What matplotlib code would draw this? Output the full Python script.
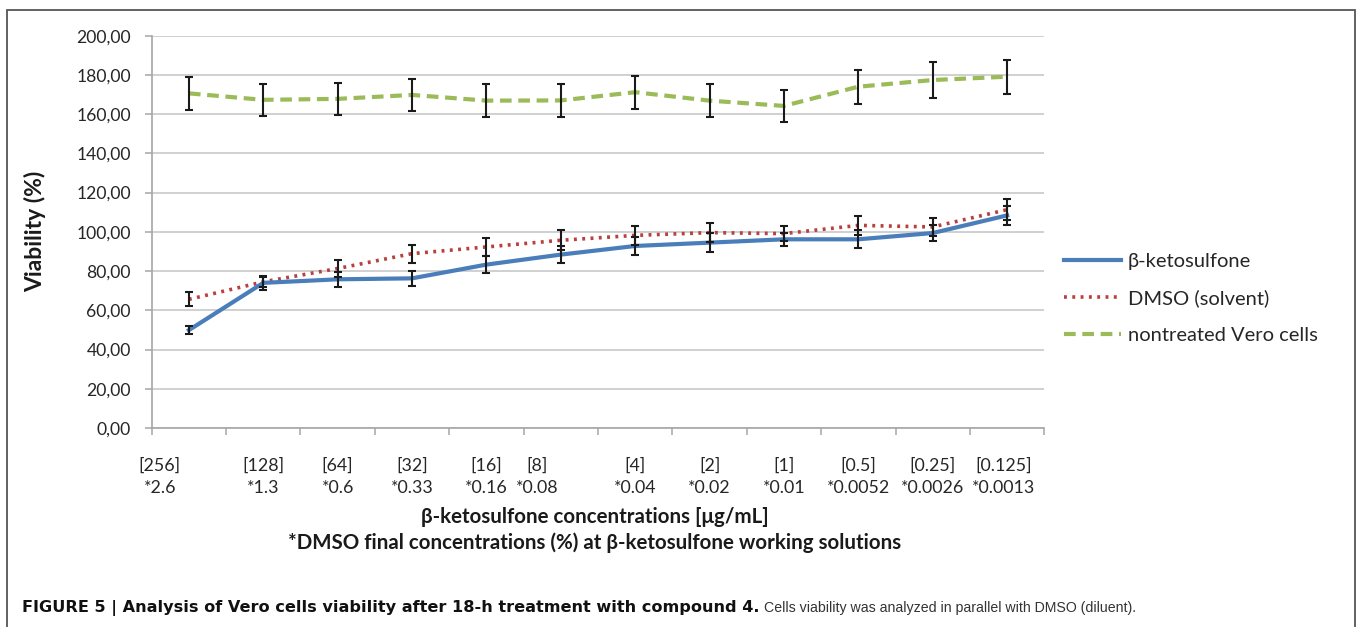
import numpy as np
import matplotlib
matplotlib.use("Agg")
import matplotlib.pyplot as plt
from matplotlib.patches import Rectangle
from matplotlib.ticker import FuncFormatter, MultipleLocator

# Concentrations of beta-ketosulfone [ug/mL] and matching DMSO final %
conc_labels = ["[256]", "[128]", "[64]", "[32]", "[16]", "[8]",
               "[4]", "[2]", "[1]", "[0.5]", "[0.25]", "[0.125]"]
dmso_labels = ["*2.6", "*1.3", "*0.6", "*0.33", "*0.16", "*0.08",
               "*0.04", "*0.02", "*0.01", "*0.0052", "*0.0026", "*0.0013"]

# Viability (%) with standard deviation
keto_mean = [49.9, 74.0, 75.8, 76.3, 83.3, 88.4, 92.8, 94.5, 96.2, 96.2, 99.4, 108.4]
keto_err = [2.2, 3.5, 3.7, 3.9, 4.2, 4.3, 4.5, 5.0, 3.2, 4.6, 4.0, 5.0]

dmso_mean = [65.6, 74.5, 81.3, 88.9, 92.3, 95.7, 98.2, 99.6, 99.1, 103.3, 102.5, 111.3]
dmso_err = [3.5, 2.5, 4.3, 4.6, 4.7, 5.0, 5.0, 5.0, 4.0, 5.0, 4.5, 5.5]

ctrl_mean = [170.6, 167.3, 167.8, 169.8, 166.9, 167.0, 171.2, 166.9, 164.2, 174.0, 177.4, 179.1]
ctrl_err = [8.5, 8.3, 8.3, 8.3, 8.3, 8.3, 8.4, 8.3, 8.3, 8.6, 9.1, 8.6]

W, H = 1358, 627
fig = plt.figure(figsize=(W / 100, H / 100), dpi=100)
fig.patch.set_facecolor("white")

UI_FONT = ["Lato", "DejaVu Sans"]
CAP_FONT = ["Liberation Sans", "DejaVu Sans"]

x0, x1, y0, y1 = 151.7, 1044.3, 35.7, 428.0
ax = fig.add_axes([x0 / W, 1 - y1 / H, (x1 - x0) / W, (y1 - y0) / H])

x = np.arange(len(conc_labels))

err_kw = dict(fmt="none", ecolor="#1a1a1a", elinewidth=1.5, capsize=2.6, capthick=1.5, zorder=4)

ax.plot(x, ctrl_mean, color="#9BBB59", lw=3.0, ls=(0, (2.8, 1.6)), zorder=3,
        label="nontreated Vero cells")
ax.plot(x, dmso_mean, color="#B8403D", lw=2.6, ls=(0, (0.8, 1.5)), zorder=3,
        label="DMSO (solvent)")
ax.plot(x, keto_mean, color="#4A7EBB", lw=3.0, zorder=3, label="β-ketosulfone")
ax.errorbar(x, ctrl_mean, yerr=ctrl_err, **err_kw)
ax.errorbar(x, dmso_mean, yerr=dmso_err, **err_kw)
ax.errorbar(x, keto_mean, yerr=keto_err, **err_kw)

ax.set_xlim(-0.5, len(x) - 0.5)
ax.set_ylim(0, 200)
ax.yaxis.set_major_locator(MultipleLocator(20))
ax.yaxis.set_major_formatter(FuncFormatter(lambda v, p: f"{v:.2f}".replace(".", ",")))
ax.grid(axis="y", color="#C4C4C4", lw=1.1, zorder=0)
ax.set_axisbelow(True)

for s in ("top", "right"):
    ax.spines[s].set_visible(False)
for s in ("left", "bottom"):
    ax.spines[s].set_color("#A6A6A6")
    ax.spines[s].set_linewidth(1.2)

ax.tick_params(axis="y", direction="out", length=5, width=1.1, color="#A6A6A6",
               labelsize=12.6, labelcolor="#262626", pad=10)
for lab in ax.get_yticklabels():
    lab.set_fontfamily(UI_FONT)

# category boundaries carry the tick marks, labels sit near category centres
label_shift = [-0.39, 0, 0, 0, 0, -0.32, 0, 0, 0, 0, 0, -0.05]
ax.set_xticks(np.arange(-0.5, len(x)), minor=True)
ax.set_xticks(x + np.array(label_shift))
ax.set_xticklabels([f"{a}\n{b}" for a, b in zip(conc_labels, dmso_labels)],
                   fontfamily=UI_FONT, fontsize=12.8, color="#262626", linespacing=1.5)
ax.tick_params(axis="x", which="major", length=0, pad=21)
ax.tick_params(axis="x", which="minor", direction="out", length=5, width=1.1, color="#A6A6A6")

ax.set_ylabel("Viability (%)", fontfamily=UI_FONT, fontsize=16.5, fontweight="bold", color="#1a1a1a")
ax.yaxis.set_label_coords((46 - x0) / (x1 - x0), 0.5)

fig.text(595 / W, 1 - 517 / H, "β-ketosulfone concentrations [μg/mL]", ha="center", va="center",
         fontfamily=UI_FONT, fontsize=14.8, fontweight="bold", color="#1a1a1a")
fig.text(595 / W, 1 - 543 / H, "*DMSO final concentrations (%) at β-ketosulfone working solutions",
         ha="center", va="center", fontfamily=UI_FONT, fontsize=14.8, fontweight="bold", color="#1a1a1a")

handles, labels = ax.get_legend_handles_labels()
order = [2, 1, 0]
leg = fig.legend([handles[i] for i in order], [labels[i] for i in order],
                 loc="center left", bbox_to_anchor=(1046 / W, 1 - 298.5 / H),
                 frameon=False, handlelength=2.8, handletextpad=0.35, labelspacing=0.95,
                 prop={"family": UI_FONT, "size": 14.5})
for t in leg.get_texts():
    t.set_color("#262626")

# caption: bold heading followed by regular sentence
cap1 = fig.text(22 / W, 1 - 608 / H,
                "FIGURE 5 | Analysis of Vero cells viability after 18-h treatment with compound 4.",
                ha="left", va="center", fontfamily=["DejaVu Sans"], fontsize=11.6, fontweight="bold",
                color="#111111")
fig.canvas.draw()
bb = cap1.get_window_extent()
fig.text(bb.x1 / W + 5 / W, 1 - 608 / H,
         "Cells viability was analyzed in parallel with DMSO (diluent).",
         ha="left", va="center", fontfamily=CAP_FONT, fontsize=10.2, color="#333333")

# outer frame
fig.patches.append(Rectangle((7 / W, -0.05), (1355 - 7) / W, 1.05 - 10 / H,
                             transform=fig.transFigure, fill=False, ec="#555555", lw=1.3))

fig.savefig("out.png", dpi=100, facecolor="white")
